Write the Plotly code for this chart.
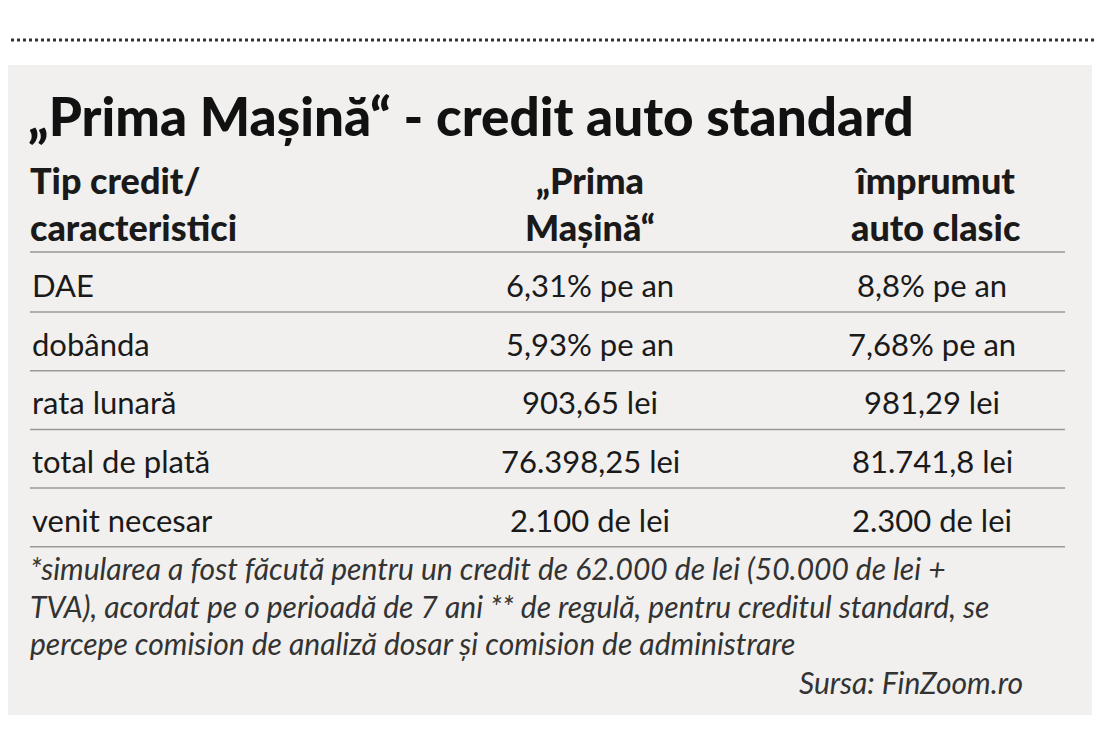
import plotly.graph_objects as go

W, H = 1104, 750
title = "„Prima Mașină“ - credit auto standard"
headers = ["Tip credit/<br>caracteristici", "„Prima<br>Mașină“", "împrumut<br>auto clasic"]
rows = ["DAE", "dobânda", "rata lunară", "total de plată", "venit necesar"]
prima = ["6,31% pe an", "5,93% pe an", "903,65 lei", "76.398,25 lei", "2.100 de lei"]
clasic = ["8,8% pe an", "7,68% pe an", "981,29 lei", "81.741,8 lei", "2.300 de lei"]
footnote = ["*simularea a fost făcută pentru un credit de 62.000 de lei (50.000 de lei +",
            "TVA), acordat pe o perioadă de 7 ani ** de regulă, pentru creditul standard, se",
            "percepe comision de analiză dosar și comision de administrare"]
source = "Sursa: FinZoom.ro"

FONT = "Lato"
fig = go.Figure()
fig.update_layout(width=W, height=H, margin=dict(l=0, r=0, t=0, b=0),
                  paper_bgcolor="white", plot_bgcolor="white",
                  xaxis=dict(visible=False, range=[8, W + 8]),
                  yaxis=dict(visible=False, range=[H + 8, 8]), showlegend=False)

shapes = [dict(type="rect", x0=5, x1=1092, y0=65, y1=715, fillcolor="#f1f0ee", line_width=0, layer="below"),
          dict(type="line", x0=5, x1=1095, y0=40, y1=40, line=dict(color="#333", width=3, dash="dot")),
          dict(type="line", x0=30, x1=1065, y0=252, y1=252, line=dict(color="#999", width=1.5))]
ann = []
def t(x, y, s, size, anchor="left", weight=400, italic=False, color="#1a1a1a"):
    if italic: s = "<i>" + s + "</i>"
    ann.append(dict(x=x, y=y, xref="x", yref="y", text=s, showarrow=False, xanchor=anchor,
                    yanchor="middle", align=anchor,
                    font=dict(family=FONT, size=size, color=color, weight=weight)))

t(26, 115, title, 53, weight=900, color="#111")
t(28, 203, headers[0], 36, "left", weight=900)
t(590, 203, headers[1], 36, "center", weight=900)
t(935, 203, headers[2], 36, "center", weight=900)
for i, (r, a, b) in enumerate(zip(rows, prima, clasic)):
    y = 285 + i * 58.7
    t(30, y, r, 31)
    t(590, y, a, 31, "center")
    t(932, y, b, 31, "center")
    shapes.append(dict(type="line", x0=30, x1=1065, y0=y + 27, y1=y + 27, line=dict(color="#999", width=1.5)))
for i, f in enumerate(footnote):
    t(28, 568 + i * 37.5, f, 30, italic=True, color="#333")
t(1025, 682, source, 30, "right", italic=True, color="#333")

fig.update_layout(shapes=shapes, annotations=ann)
fig.write_html("out.html")
